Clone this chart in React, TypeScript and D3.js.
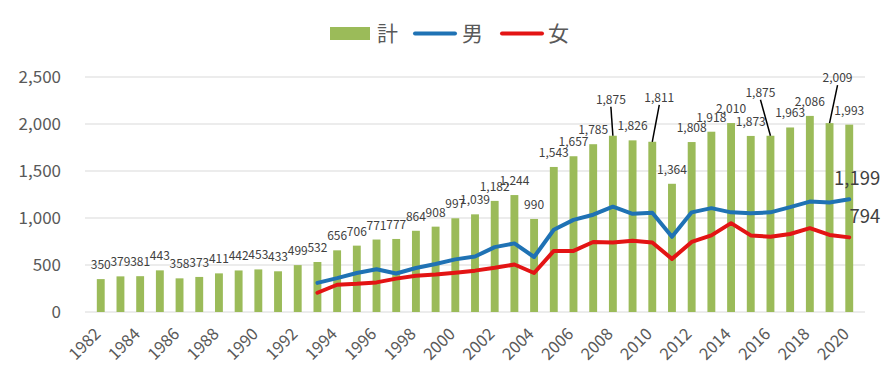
import React, { useEffect, useRef } from "react";
import * as d3 from "d3";

const years = d3.range(1982, 2021).map(String);

// 計
const totals = [
  350, 379, 381, 443, 358, 373, 411, 442, 453, 433, 499, 532, 656, 706, 771, 777, 864, 908, 997, 1039,
  1182, 1244, 990, 1543, 1657, 1785, 1875, 1826, 1811, 1364, 1808, 1918, 2010, 1873, 1875, 1963, 2086,
  2009, 1993,
];

// 男 / 女 start in 1993
const lineYears = d3.range(1993, 2021).map(String);
const male = [
  310, 360, 415, 455, 410, 468, 510, 560, 590, 690, 730, 585, 875, 980, 1035, 1120, 1045, 1055, 800,
  1060, 1105, 1060, 1050, 1060, 1115, 1175, 1165, 1199,
];
const female = [
  205, 290, 300, 315, 355, 385, 398, 418, 440, 470, 505, 415, 650, 650, 745, 740, 758, 740, 565, 745,
  815, 945, 815, 800, 830, 892, 820, 794,
];

const yTicks = [0, 500, 1000, 1500, 2000, 2500];

// hand-moved labels (dx, dy) with leader lines, like the original
const movedLabels: Record<string, [number, number]> = {
  "2008": [-2, -22],
  "2010": [7, -30],
  "2016": [-10, -29],
  "2019": [8, -31],
};

const W = 895;
const H = 388;
const margin = { top: 77, right: 30, bottom: 76, left: 85 };

const GREEN = "#9BBB59";
const BLUE = "#1F72B4";
const RED = "#E31414";
const TEXT = "#595959";
const FONT = "'Noto Sans CJK JP', 'Noto Sans', sans-serif";

export default function App() {
  const ref = useRef<SVGSVGElement>(null);

  useEffect(() => {
    const svg = d3.select(ref.current);
    svg.selectAll("*").remove();

    const x = d3
      .scaleBand()
      .domain(years)
      .range([margin.left, W - margin.right])
      .padding(0.6);
    const y = d3
      .scaleLinear()
      .domain([0, 2500])
      .range([H - margin.bottom, margin.top]);
    const cx = (yr: string) => (x(yr) as number) + x.bandwidth() / 2;

    // gridlines
    svg
      .append("g")
      .selectAll("line")
      .data(yTicks)
      .enter()
      .append("line")
      .attr("x1", margin.left)
      .attr("x2", W - margin.right)
      .attr("y1", (d) => y(d))
      .attr("y2", (d) => y(d))
      .attr("stroke", "#d9d9d9")
      .attr("stroke-width", 1);

    // y axis labels
    svg
      .append("g")
      .selectAll("text")
      .data(yTicks)
      .enter()
      .append("text")
      .attr("x", 61)
      .attr("y", (d) => y(d))
      .attr("dy", "0.35em")
      .attr("text-anchor", "end")
      .attr("font-size", 17)
      .attr("font-family", FONT)
      .attr("fill", TEXT)
      .text((d) => d3.format(",")(d));

    // bars
    svg
      .selectAll(".bar")
      .data(totals)
      .enter()
      .append("rect")
      .attr("class", "bar")
      .attr("x", (d, i) => x(years[i]) as number)
      .attr("y", (d) => y(d))
      .attr("width", x.bandwidth())
      .attr("height", (d) => y(0) - y(d))
      .attr("fill", GREEN);

    // x axis labels (every other year)
    svg
      .append("g")
      .selectAll("text")
      .data(years.filter((d, i) => i % 2 === 0))
      .enter()
      .append("text")
      .attr("transform", (d) => `translate(${cx(d) + 1},${y(0) + 23}) rotate(-45)`)
      .attr("text-anchor", "end")
      .attr("font-size", 16.5)
      .attr("font-family", FONT)
      .attr("fill", TEXT)
      .text((d) => d);

    // lines
    const line = d3
      .line<number>()
      .x((d, i) => cx(lineYears[i]))
      .y((d) => y(d));
    [
      { values: male, color: BLUE },
      { values: female, color: RED },
    ].forEach((s) => {
      svg
        .append("path")
        .datum(s.values)
        .attr("d", line)
        .attr("fill", "none")
        .attr("stroke", s.color)
        .attr("stroke-width", 4)
        .attr("stroke-linejoin", "round")
        .attr("stroke-linecap", "round");
    });

    // bar data labels
    const labels = svg.append("g");
    totals.forEach((v, i) => {
      const yr = years[i];
      const [dx, dy] = movedLabels[yr] || [0, 0];
      const lx = cx(yr) + dx;
      const ly = y(v) - 10 + dy;
      labels
        .append("text")
        .attr("x", lx)
        .attr("y", ly)
        .attr("text-anchor", "middle")
        .attr("font-size", 12)
        .attr("font-family", FONT)
        .attr("fill", "#404040")
        .text(d3.format(",")(v));
      if (movedLabels[yr]) {
        labels
          .append("line")
          .attr("x1", lx)
          .attr("y1", ly + 3)
          .attr("x2", cx(yr))
          .attr("y2", y(v))
          .attr("stroke", "#000")
          .attr("stroke-width", 1.5);
      }
    });

    // end labels of lines
    const last = lineYears.length - 1;
    [male[last], female[last]].forEach((v) => {
      svg
        .append("text")
        .attr("x", cx(lineYears[last]) + 31)
        .attr("y", y(v) - 14)
        .attr("text-anchor", "end")
        .attr("font-size", 18.5)
        .attr("font-family", FONT)
        .attr("fill", "#404040")
        .text(d3.format(",")(v));
    });

    // legend
    const lg = svg.append("g").attr("font-family", FONT).attr("font-size", 21).attr("fill", TEXT);
    lg.append("rect").attr("x", 330).attr("y", 27).attr("width", 40).attr("height", 13).attr("fill", GREEN);
    lg.append("text").attr("x", 377).attr("y", 41).text("計");
    lg.append("line").attr("x1", 415).attr("x2", 455).attr("y1", 33.5).attr("y2", 33.5)
      .attr("stroke", BLUE).attr("stroke-width", 4).attr("stroke-linecap", "round");
    lg.append("text").attr("x", 462).attr("y", 41).text("男");
    lg.append("line").attr("x1", 502).attr("x2", 542).attr("y1", 33.5).attr("y2", 33.5)
      .attr("stroke", RED).attr("stroke-width", 4).attr("stroke-linecap", "round");
    lg.append("text").attr("x", 548).attr("y", 41).text("女");
  }, []);

  return (
    <svg
      ref={ref}
      width={W}
      height={H}
      style={{ position: "absolute", left: 0, top: 0, background: "#fff" }}
    />
  );
}
